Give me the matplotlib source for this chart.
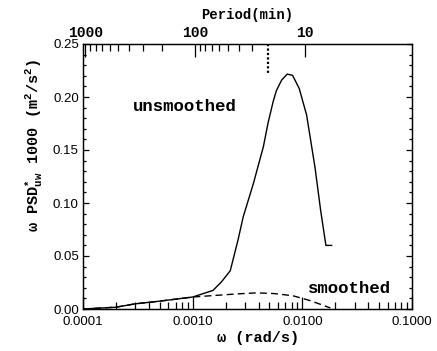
import numpy as np
import matplotlib
matplotlib.use('Agg')
import matplotlib.pyplot as plt
from matplotlib.ticker import FixedLocator, NullFormatter, MultipleLocator

# frequency (rad/s) and omega*PSD*1000
omega_raw = [1.0e-4, 2.0e-4, 3.0e-4, 5.0e-4, 1.0e-3, 1.53e-3, 1.82e-3, 2.2e-3,
             2.59e-3, 2.89e-3, 3.57e-3, 4.41e-3, 4.88e-3, 5.43e-3, 5.8e-3,
             6.48e-3, 7.28e-3, 8.15e-3, 9.37e-3, 1.094e-2, 1.303e-2, 1.469e-2,
             1.64e-2, 1.85e-2]
psd_raw = [0.0, 0.0017, 0.0049, 0.0074, 0.0113, 0.0175, 0.0253, 0.036,
           0.065, 0.087, 0.118, 0.153, 0.176, 0.196, 0.206,
           0.216, 0.2216, 0.2204, 0.208, 0.183, 0.134, 0.093,
           0.060, 0.060]

omega_smooth = [1.0e-4, 2.0e-4, 3.0e-4, 5.0e-4, 1.0e-3, 1.6e-3, 2.5e-3, 3.8e-3,
                5.5e-3, 8.2e-3, 1.17e-2, 1.5e-2, 1.8e-2]
psd_smooth = [0.0, 0.0017, 0.0049, 0.0074, 0.0113, 0.0128, 0.0142, 0.0152,
              0.0146, 0.0125, 0.008, 0.004, 0.001]

# top axis: period in minutes
period_major = [1000, 100, 10]
period_minor = [900, 800, 700, 600, 500, 400, 300, 200,
                90, 80, 70, 60, 50, 40, 30]
omega_mark = 0.00485
mark_top = 0.222

x_ticks = [1e-4, 1e-3, 1e-2, 1e-1]
x_labels = ['0.0001', '0.0010', '0.0100', '0.1000']
y_ticks = [0.0, 0.05, 0.10, 0.15, 0.20, 0.25]
y_labels = ['0.00', '0.05', '0.10', '0.15', '0.20', '0.25']

mono = 'Liberation Mono'
sans = 'Liberation Sans'
plt.rcParams['mathtext.fontset'] = 'custom'
plt.rcParams['mathtext.rm'] = 'Liberation Mono:bold'
plt.rcParams['mathtext.it'] = 'Liberation Mono:bold'
plt.rcParams['mathtext.bf'] = 'Liberation Mono:bold'
plt.rcParams['mathtext.default'] = 'rm'


def period_to_omega(p):
    return 2 * np.pi / (np.asarray(p, dtype=float) * 60.0)


fig = plt.figure(figsize=(4.37, 3.51), dpi=100)
ax = fig.add_axes([83/437, 1 - 309/351, 329/437, 265/351])

ax.plot(omega_raw, psd_raw, color='black', lw=1.0)
ax.plot(omega_smooth, psd_smooth, color='black', lw=1.0, ls=(0, (5, 3)))
ax.plot([omega_mark, omega_mark], [0.25, mark_top], color='black', lw=1.6, ls=(0, (1, 1)))

ax.set_xscale('log')
ax.set_xlim(1e-4, 1e-1)
ax.set_ylim(0, 0.25)

ax.set_xticks(x_ticks)
ax.set_xticklabels(x_labels, fontfamily=sans, fontsize=9.5)
ax.xaxis.set_minor_locator(FixedLocator(
    [m * 10.0**e for e in range(-4, -1) for m in range(2, 10)]))
ax.xaxis.set_minor_formatter(NullFormatter())
ax.set_yticks(y_ticks)
ax.set_yticklabels(y_labels, fontfamily=sans, fontsize=9.5)
ax.yaxis.set_minor_locator(MultipleLocator(0.01))

ax.tick_params(axis='x', which='major', direction='in', length=9, width=0.9,
               top=False, bottom=True, pad=5)
ax.tick_params(axis='x', which='minor', direction='in', length=5, width=0.9,
               top=False, bottom=True)
ax.tick_params(axis='y', which='major', direction='in', length=4.5, width=0.9,
               left=True, right=True, pad=3)
ax.tick_params(axis='y', which='minor', direction='in', length=2.2, width=0.9,
               left=True, right=True)
for s in ax.spines.values():
    s.set_linewidth(0.9)

ax.set_xlabel('ω (rad/s)', fontfamily=mono, fontweight='bold', fontsize=11,
              x=(258 - 83) / 329, labelpad=2)
ax.set_ylabel(r'ω PSD$_{uw}^{*}$ 1000 (m$^{2}$/s$^{2}$)', fontfamily=mono,
              fontweight='bold', fontsize=11, y=(309 - 145) / 265, labelpad=6)

ax.text(2.86e-4, 0.1907, 'unsmoothed', fontfamily=mono, fontweight='bold',
        fontsize=12.5, ha='left', va='center')
ax.text(1.125e-2, 0.019, 'smoothed', fontfamily=mono, fontweight='bold',
        fontsize=12.5, ha='left', va='center')

# period axis on top
ax2 = ax.twiny()
ax2.set_xscale('log')
ax2.set_xlim(ax.get_xlim())
ax2.set_xticks(period_to_omega(period_major))
ax2.set_xticklabels([str(p) for p in period_major], fontfamily=mono,
                    fontweight='bold', fontsize=10.5)
ax2.xaxis.set_minor_locator(FixedLocator(period_to_omega(period_minor)))
ax2.xaxis.set_minor_formatter(NullFormatter())
ax2.tick_params(axis='x', which='major', direction='in', length=9, width=0.9, pad=3)
ax2.tick_params(axis='x', which='minor', direction='in', length=5, width=0.9)
ax2.set_xlabel('Period(min)', fontfamily=mono, fontweight='bold', fontsize=10,
               labelpad=5)
for s in ax2.spines.values():
    s.set_linewidth(0.9)

fig.savefig('out.png', dpi=100)
